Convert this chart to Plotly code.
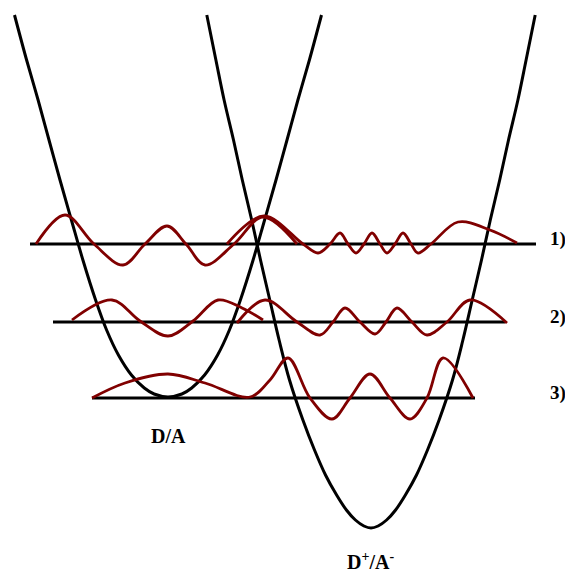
import plotly.graph_objects as go

# Potential energy curves (q = nuclear coordinate, E = energy on a downward screen scale)
DA_q = [14.5, 26.6, 38.1, 49.0, 60.0, 71.4, 82.9, 95.6, 106.6, 118.4, 131.4, 144.3, 154.1, 168.0,
        181.9, 191.7, 204.6, 217.6, 229.4, 240.4, 253.1, 264.6, 276.0, 287.0, 297.9, 309.4, 321.5]
DA_E = [15, 60, 100, 140, 180, 220, 260, 300, 330, 355, 375, 388, 394, 397,
        394, 388, 375, 355, 330, 300, 260, 220, 180, 140, 100, 60, 15]

CT_q = [206.8, 215.9, 224.1, 233.5, 242.3, 251.7, 260.5, 269.8, 279.1, 289.5, 302.9, 314.5, 325.5,
        336.6, 346.4, 355.4, 363.9, 371.0,
        378.1, 386.6, 395.6, 405.4, 416.5, 427.5, 439.1, 452.5, 462.9, 472.2, 481.5, 490.3, 499.7,
        508.5, 517.9, 526.1, 535.2]
CT_E = [15, 60, 100, 140, 180, 220, 260, 300, 340, 380, 420, 450, 475, 495, 510, 520, 526, 528,
        526, 520, 510, 495, 475, 450, 420, 380, 340, 300, 260, 220, 180, 140, 100, 60, 15]

# Energy levels
level_E = [244, 322, 398]
level_q0 = [30, 53, 92]
level_q1 = [536, 505, 475]
level_labels = ["1)", "2)", "3)"]

# Vibrational wavefunctions
w1a_q = [36, 65, 94, 123, 145, 167, 186, 205, 234, 263, 297]
w1a_E = [244, 215, 244, 265, 244, 226, 244, 265, 244, 217, 244]

w1b_q = [227, 264, 303, 318, 330, 340, 348, 356, 364, 372, 380, 387, 395, 403, 411, 418, 431, 458, 490, 517]
w1b_E = [244, 216, 244, 253, 244, 233, 244, 253, 244, 233, 244, 253, 244, 233, 244, 253, 244, 222, 230, 243]

w2a_q = [72, 112, 140, 168, 193, 218, 242, 263]
w2a_E = [320, 300, 321, 336, 321, 300, 308, 320]

w2b_q = [237, 265, 297, 320, 333, 345, 360, 375, 386, 397, 412, 427, 447, 470, 507]
w2b_E = [323, 300, 322, 335, 322, 308, 322, 334, 322, 308, 322, 335, 322, 300, 323]

w3_q = [92, 125, 168, 205, 250, 270, 288, 310, 332, 350, 370, 390, 410, 427, 443, 473]
w3_E = [398, 383, 374, 383, 397, 380, 358, 398, 419, 398, 374, 398, 419, 398, 358, 398]

BLACK = "#000000"
RED = "#800000"
FONT = "Liberation Serif, Times New Roman, serif"

fig = go.Figure()

for q, E in [(DA_q, DA_E), (CT_q, CT_E)]:
    fig.add_trace(go.Scatter(x=q, y=E, mode="lines", line=dict(color=BLACK, width=3, shape="spline"),
                             hoverinfo="skip", showlegend=False))

for E, q0, q1 in zip(level_E, level_q0, level_q1):
    fig.add_trace(go.Scatter(x=[q0, q1], y=[E, E], mode="lines", line=dict(color=BLACK, width=3),
                             hoverinfo="skip", showlegend=False))

for q, E in [(w1a_q, w1a_E), (w1b_q, w1b_E), (w2a_q, w2a_E), (w2b_q, w2b_E), (w3_q, w3_E)]:
    fig.add_trace(go.Scatter(x=q, y=E, mode="lines", line=dict(color=RED, width=2.8, shape="spline"),
                             hoverinfo="skip", showlegend=False))

for E, lab in zip(level_E, level_labels):
    fig.add_annotation(x=548, y=E - 5, text="<b>%s</b>" % lab, showarrow=False, xanchor="left",
                       yanchor="middle", font=dict(family=FONT, size=19, color=BLACK))

fig.add_annotation(x=168, y=436, text="<b>D/A</b>", showarrow=False, xanchor="center", yanchor="middle",
                   font=dict(family=FONT, size=20, color=BLACK))
fig.add_annotation(x=370, y=561, text="<b>D<sup>+</sup>/A<sup>-</sup></b>", showarrow=False,
                   xanchor="center", yanchor="middle", font=dict(family=FONT, size=20, color=BLACK))

fig.update_layout(width=565, height=572, margin=dict(l=0, r=0, t=0, b=0),
                  paper_bgcolor="white", plot_bgcolor="white")
fig.update_xaxes(range=[0, 565], visible=False, fixedrange=True)
fig.update_yaxes(range=[572, 0], visible=False, fixedrange=True)

fig.write_html("out.html", config={"displayModeBar": False},
               post_script="document.body.style.margin='0';document.body.style.overflow='hidden';")
